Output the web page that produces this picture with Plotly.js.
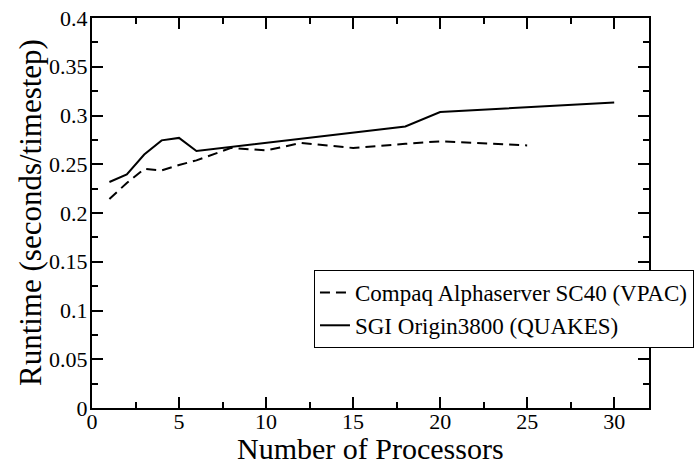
<!DOCTYPE html>
<html>
<head>
<meta charset="utf-8">
<script src="https://cdn.plot.ly/plotly-3.0.1.min.js"></script>
<style>html,body{margin:0;padding:0;background:#fff;}#chart{width:696px;height:465px;}</style>
</head>
<body>
<div id="chart"></div>
<script>
// Data
const compaqProcs = [1, 2, 3, 4, 5, 6, 8, 10, 12, 15, 18, 20, 25];
const compaqRuntime = [0.2144, 0.2308, 0.2452, 0.2437, 0.2492, 0.254, 0.2668, 0.2642, 0.2718, 0.2667, 0.271, 0.2735, 0.2693];
const sgiProcs = [1, 2, 3, 4, 5, 6, 18, 20, 30];
const sgiRuntime = [0.2318, 0.2396, 0.260, 0.2745, 0.277, 0.2636, 0.2888, 0.3036, 0.3134];
const compaqName = "Compaq Alphaserver SC40 (VPAC)";
const sgiName = "SGI Origin3800 (QUAKES)";
const xTitle = "Number of Processors";
const yTitle = "Runtime (seconds/timestep)";

const serif = "Liberation Serif, Times New Roman, serif";

const traces = [
  {x: compaqProcs, y: compaqRuntime, name: compaqName, type: "scatter", mode: "lines",
   line: {color: "#000", width: 2, dash: "10px,6px"}},
  {x: sgiProcs, y: sgiRuntime, name: sgiName, type: "scatter", mode: "lines",
   line: {color: "#000", width: 2}}
];

const axisCommon = {
  showgrid: false, zeroline: false, showline: true, linecolor: "#000", linewidth: 2,
  mirror: "allticks", ticks: "inside", ticklen: 11, tickwidth: 2, tickcolor: "#000",
  tickfont: {family: serif, size: 22, color: "#000"},
  minor: {ticks: "inside", ticklen: 6, tickwidth: 2, tickcolor: "#000"}
};

const layout = {
  width: 696, height: 465,
  margin: {l: 92, r: 0, t: 18, b: 57},
  paper_bgcolor: "#fff", plot_bgcolor: "#fff",
  showlegend: true,
  font: {family: serif, color: "#000"},
  xaxis: Object.assign({}, axisCommon, {
    domain: [0, 0.9222],
    range: [0, 32], dtick: 5, tick0: 0, ticklabelstandoff: -7,
    minor: Object.assign({}, axisCommon.minor, {dtick: 2.5})
  }),
  yaxis: Object.assign({}, axisCommon, {
    range: [0, 0.4], dtick: 0.05, tick0: 0, ticklabelstandoff: -2,
    minor: Object.assign({}, axisCommon.minor, {dtick: 0.025})
  }),
  annotations: [
    {text: xTitle, xref: "paper", yref: "paper", x: 0.461, y: -0.1051, xanchor: "center", yanchor: "middle",
     showarrow: false, font: {family: serif, size: 30, color: "#000"}},
    {text: yTitle, xref: "paper", yref: "paper", x: -0.1026, y: 0.5, xanchor: "center", yanchor: "middle",
     textangle: -90, showarrow: false, font: {family: serif, size: 31, color: "#000"}}
  ],
  legend: {
    x: 0.3675, y: 0.354, xanchor: "left", yanchor: "top",
    bgcolor: "#fff", bordercolor: "#000", borderwidth: 1,
    font: {family: serif, size: 23, color: "#000"},
    tracegroupgap: 0, itemwidth: 30
  }
};

Plotly.newPlot("chart", traces, layout, {displayModeBar: false, staticPlot: true});
</script>
</body>
</html>
